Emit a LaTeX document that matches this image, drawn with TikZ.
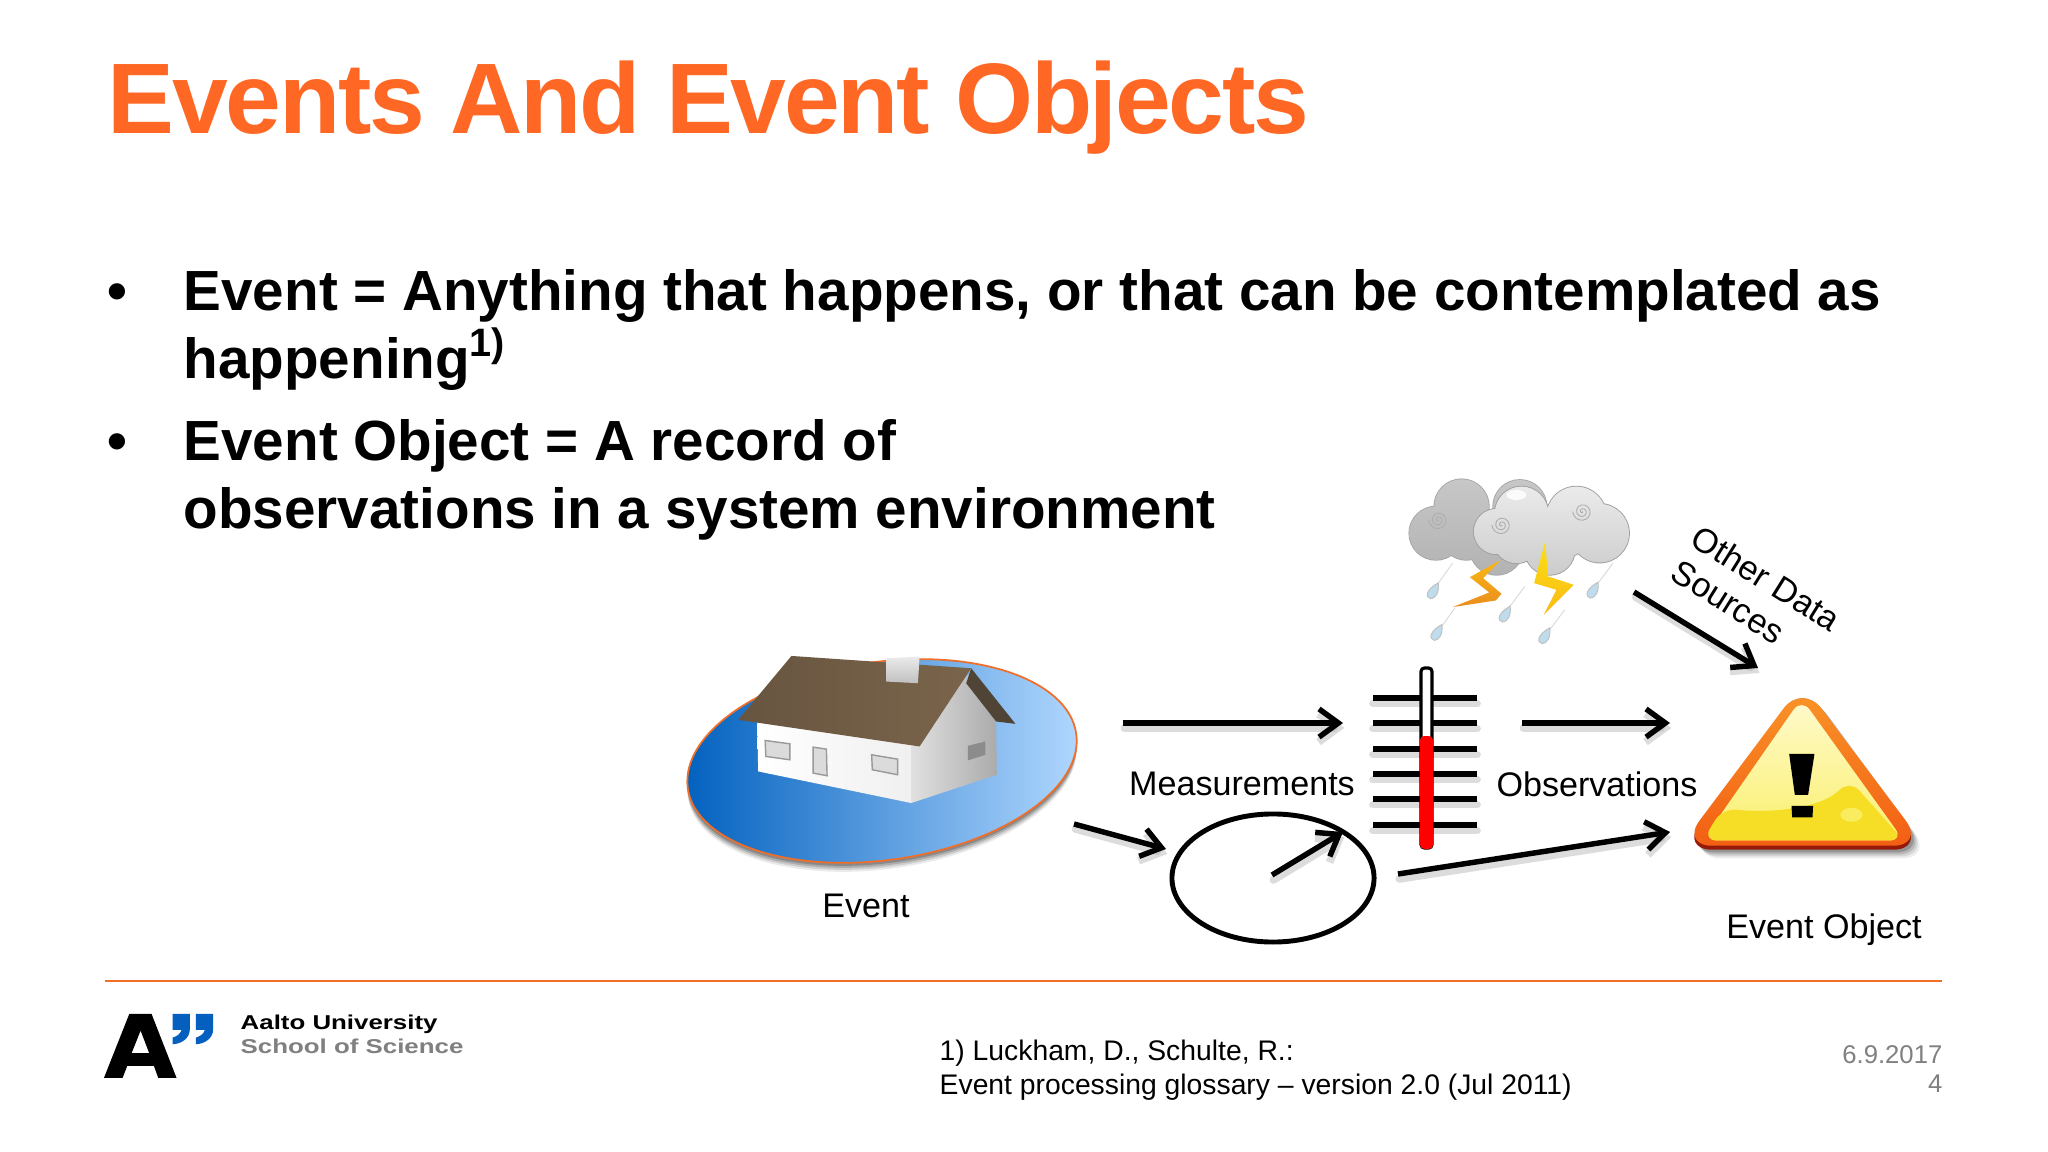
\documentclass[tikz,border=0pt]{standalone}
\usepackage{fontspec}
\setmainfont{Liberation Sans}
\newfontfamily\logofont[FakeStretch=1.29]{Liberation Sans Bold}
\newfontfamily\titlefont[LetterSpace=-2.3]{Liberation Sans Bold}
\usepackage{xcolor}
\usepackage{tikz}
\usetikzlibrary{shapes.geometric, arrows.meta, positioning, calc}
\definecolor{titlecolor}{RGB}{255, 103, 36}
\definecolor{rulecolor}{RGB}{240, 110, 40}
\definecolor{greytext}{RGB}{128, 128, 128}
\definecolor{aaltoblue}{RGB}{5, 95, 190}
\definecolor{poolleft}{RGB}{0, 96, 190}
\definecolor{poolright}{RGB}{178, 216, 255}
\definecolor{roofcolor}{RGB}{122, 100, 75}
\definecolor{roofdark}{RGB}{80, 68, 55}
\definecolor{boltorange}{RGB}{235, 140, 30}
\definecolor{boltamber}{RGB}{250, 185, 20}
\definecolor{boltyellow}{RGB}{250, 225, 20}
\definecolor{dropcolor}{RGB}{190, 220, 235}
\definecolor{signorange}{RGB}{250, 150, 40}
\definecolor{signred}{RGB}{242, 95, 20}
\definecolor{signdark}{RGB}{150, 25, 10}
\definecolor{signpale}{RGB}{255, 250, 205}
\definecolor{signlemon}{RGB}{250, 240, 110}
\definecolor{signyellow}{RGB}{245, 215, 10}
\newcommand{\backblobs}{(108,190) circle[radius=80] (185,110) circle[radius=82] (360,110) circle[radius=80] (290,235) circle[radius=80] (200,190) circle[radius=80]}
\newcommand{\frontblobs}{(290,185) circle[radius=68] (365,130) circle[radius=80] (530,140) circle[radius=90] (600,190) circle[radius=88] (450,240) circle[radius=75] (350,210) circle[radius=70] (500,190) circle[radius=70]}

\begin{document}
\begin{tikzpicture}[
    x=0.01cm, y=-0.01cm,
    title/.style={font=\titlefont\fontsize{28.5}{30}\selectfont, text=titlecolor, anchor=base west, inner sep=0pt},
    bodytext/.style={font=\fontsize{16.1}{19}\selectfont\bfseries, anchor=base west, inner sep=0pt},
    label/.style={font=\fontsize{9.7}{12}\selectfont, inner sep=0pt},
    footnote/.style={font=\fontsize{8.05}{10}\selectfont, anchor=base west, inner sep=0pt},
    pagenote/.style={font=\fontsize{7.3}{9}\selectfont, text=greytext, anchor=base east, inner sep=0pt},
    logotext/.style={font=\logofont\fontsize{5.7}{7}\selectfont, anchor=base west, inner sep=0pt},
    inklight/.style={draw=black!30, opacity=0.45, line width=2.2pt, line cap=round},
    arrowline/.style={line width=1.55pt, -{Straight Barb[length=5.5pt,width=8pt]},
        preaction={inklight, transform canvas={shift={(0.4pt,-1.4pt)}}}},
    tickline/.style={line width=1.45pt, preaction={inklight, transform canvas={yshift=-1.6pt}}},
    drop/.style={fill=dropcolor, draw=black!25, line width=0.25pt},
    rainline/.style={draw=black!15, line width=0.25pt},
    swirl/.style={draw=black!32, line width=0.25pt},
    windowpane/.style={fill=black!14, draw=black!40, line width=0.4pt}
]
    \path[fill=white] (0,0) rectangle (2048,1152);
    \useasboundingbox (0,0) rectangle (2048,1152);

    % Heading and bullets
    \node[title] (heading) at (107,134) {Events And Event Objects};
    \node[bodytext] (bullet1) at (107,311) {•};
    \node[bodytext] (line1) at (183,311) {Event = Anything that happens, or that can be contemplated as};
    \node[bodytext] (line2) at (183,379) {happening\textsuperscript{1)}};
    \node[bodytext] (bullet2) at (107,461) {•};
    \node[bodytext] (line3) at (183,461) {Event Object = A record of};
    \node[bodytext] (line4) at (183,529) {observations in a system environment};

    % Pool
    \foreach \off/\op in {9/0.08, 7/0.12, 5/0.16, 3/0.2} {
        \fill[black, opacity=\op, rotate around={8:(882,761+\off)}] (882,761+\off) ellipse (1.96cm and 0.99cm);
    }
    \node[ellipse, minimum width=3.92cm, minimum height=1.98cm, inner sep=0pt, rotate=8,
        draw=rulecolor, line width=0.5pt, left color=poolleft, right color=poolright] (pool) at (882,761) {};

    % House
    \begin{scope}[shift={(660,620)}, x=0.00333cm, y=-0.00333cm]
        \path[left color=white, right color=black!6] (292,300) -- (755,365) -- (755,550) -- (295,455) -- cycle;
        \path[left color=black!12, right color=black!33] (755,365) -- (925,165) -- (1010,305) -- (1012,465) -- (755,550) -- cycle;
        \fill[roofdark] (935,145) -- (1068,312) -- (1010,305) -- (920,190) -- cycle;
        \path[left color=roofcolor!85!black, right color=roofcolor] (395,108) -- (935,145) -- (780,380) -- (235,300) -- cycle;
        \path[top color=black!8, bottom color=black!25] (680,115) -- (780,110) -- (775,190) -- (680,185) -- cycle;
        \path[windowpane] (316,362) -- (390,372) -- (390,420) -- (318,410) -- cycle;
        \path[windowpane] (460,382) -- (500,388) -- (502,468) -- (460,460) -- cycle;
        \path[windowpane] (636,405) -- (714,418) -- (714,465) -- (638,450) -- cycle;
        \fill[black!45] (925,378) -- (978,365) -- (978,405) -- (925,422) -- cycle;
    \end{scope}
    \node[label] (eventlabel) at (866,906) {Event};

    % Cloud
    \begin{scope}[shift={(1400,470)}, x=0.00333cm, y=-0.00333cm]
        \draw[rainline] (158,280) -- (115,340);
        \draw[rainline] (375,350) -- (330,410);
        \draw[rainline] (165,415) -- (125,470);
        \draw[rainline] (495,420) -- (450,480);
        \draw[rainline] (640,280) -- (595,340);
        \path[draw=black!35, line width=0.5pt] \backblobs;
        \path[top color=black!22, bottom color=black!30] \backblobs;
        \path[draw=black!38, line width=0.5pt] \frontblobs;
        \path[top color=black!8, bottom color=black!20] \frontblobs;
        \fill[white, opacity=0.85] (350,75) ellipse (0.1cm and 0.05cm);
        \foreach \sx/\sy in {115/150, 305/165, 548/125} {
            \draw[swirl] plot[smooth, variable=\ang, domain=0:900, samples=40] ({\sx+\ang*0.032*cos(\ang)},{\sy+\ang*0.032*sin(\ang)});
        }
        \path[top color=boltamber, bottom color=boltorange] (303,270) -- (210,322) -- (268,368) -- (158,412) -- (288,392) -- (305,372) -- (250,325) -- cycle;
        \path[top color=boltyellow, bottom color=boltamber] (436,215) -- (403,340) -- (470,360) -- (432,435) -- (522,345) -- (445,320) -- cycle;
        \foreach \dx/\dy in {97/365, 313/435, 108/490, 432/500, 577/363} {
            \draw[drop] (\dx+18,\dy-26) .. controls (\dx+22,\dy+5) and (\dx+8,\dy+22) .. (\dx-5,\dy+22)
                .. controls (\dx-22,\dy+18) and (\dx-20,\dy-5) .. cycle;
        }
    \end{scope}

    % Warning sign
    \begin{scope}[shift={(1680,680)}, x=0.00333cm, y=-0.00333cm]
        \foreach \off/\op in {26/0.07, 20/0.1, 14/0.14, 8/0.18} {
            \fill[black, opacity=\op, rounded corners=9pt, shift={(\off,\off)}] (368,10) -- (735,510) -- (2,510) -- cycle;
        }
        \fill[signdark, rounded corners=9pt] (368,10) -- (735,510) -- (2,510) -- cycle;
        \path[top color=signorange, bottom color=signred, rounded corners=9pt] (368,10) -- (735,498) -- (2,498) -- cycle;
        \path[top color=signpale, bottom color=signlemon, rounded corners=4pt] (365,55) -- (672,482) -- (68,482) -- cycle;
        \path[top color=signyellow!75!signlemon, bottom color=signyellow!70!signlemon, rounded corners=4pt] (128,385) .. controls (260,400) and (420,390) .. (510,300) -- (672,482) -- (68,482) -- cycle;
        \fill[signlemon, opacity=0.8] (515,405) ellipse (0.11cm and 0.07cm);
        \fill[black] (328,222) -- (404,222) -- (385,345) -- (345,345) -- cycle;
        \fill[black] (335,378) -- (400,378) -- (398,413) -- (337,413) -- cycle;
    \end{scope}
    \coordinate (signtop) at (1758,668);
    \coordinate (signleft) at (1670,723);
    \coordinate (signlow) at (1670,832);
    \node[label] (objectlabel) at (1824,930) {Event Object};

    % Thermometer
    \foreach \ty in {698,723,749,774,799,825} {
        \draw[tickline] (1373,\ty) -- (1477,\ty);
    }
    \node[draw=black, fill=white, line width=0.9pt, rounded corners=1pt, minimum width=0.11cm, minimum height=1.8cm, inner sep=0pt] (thermo) at (1426.5,758) {};
    \fill[red, rounded corners=1.2pt] (1420,736) rectangle (1433,849);
    \node[label] (measurelabel) at (1242,784) {Measurements};
    \node[label] (obslabel) at (1597,784) {Observations};

    % Gauge
    \node[ellipse, draw=black, line width=1.4pt, minimum width=2.02cm, minimum height=1.28cm, inner sep=0pt] (gauge) at (1273,878) {};
    \coordinate (needle) at (1272,875);
    \coordinate (needletip) at (1343,832);

    % Flow arrows
    \coordinate (poolout) at (1123,723);
    \coordinate (thermoin) at (1343,723);
    \coordinate (poollow) at (1074,824);
    \coordinate (gaugein) at (1166,849);
    \coordinate (thermoout) at (1522,723);
    \coordinate (gaugeout) at (1398,874);
    \coordinate (cloudout) at (1634,592);
    \draw[arrowline] (poolout) -- (thermoin);
    \draw[arrowline] (poollow) -- (gaugein);
    \draw[arrowline] (needle) -- (needletip);
    \draw[arrowline] (thermoout) -- (signleft);
    \draw[arrowline] (gaugeout) -- (signlow);
    \draw[arrowline] (cloudout) -- (signtop);
    \node[label, rotate=-32] (otherlabel) at (1766,578) {Other Data};
    \node[label, rotate=-32] (sourceslabel) at (1728,602) {Sources};

    % Footer
    \coordinate (ruleleft) at (105,981);
    \coordinate (ruleright) at (1942,981);
    \draw[rulecolor, line width=0.8pt] (ruleleft) -- (ruleright);
    \begin{scope}[shift={(90,990)}, x=0.00333cm, y=-0.00333cm]
        \fill[black, even odd rule] (42,264) -- (118,72) -- (185,72) -- (260,264) -- (205,264) -- (192,228) -- (112,228) -- (98,264) -- cycle
            (125,190) -- (178,190) -- (152,122) -- cycle;
        \foreach \qx in {0,70} {
            \fill[aaltoblue] (248+\qx,72) -- (300+\qx,72) -- (300+\qx,118) .. controls (300+\qx,145) and (275+\qx,162) .. (248+\qx,163)
                -- (248+\qx,143) .. controls (260+\qx,140) and (272+\qx,132) .. (275+\qx,120) -- (248+\qx,120) -- cycle;
        }
    \end{scope}
    \node[logotext] (logotop) at (240,1029) {Aalto University};
    \node[logotext, text=greytext] (logolow) at (240,1053) {School of Science};
    \node[footnote] (refone) at (939,1060) {1) Luckham, D., Schulte, R.:};
    \node[footnote] (reftwo) at (939,1094) {Event processing glossary – version 2.0 (Jul 2011)};
    \node[pagenote] (datenote) at (1943,1063) {6.9.2017};
    \node[pagenote] (pagenum) at (1943,1092) {4};
\end{tikzpicture}
\end{document}
